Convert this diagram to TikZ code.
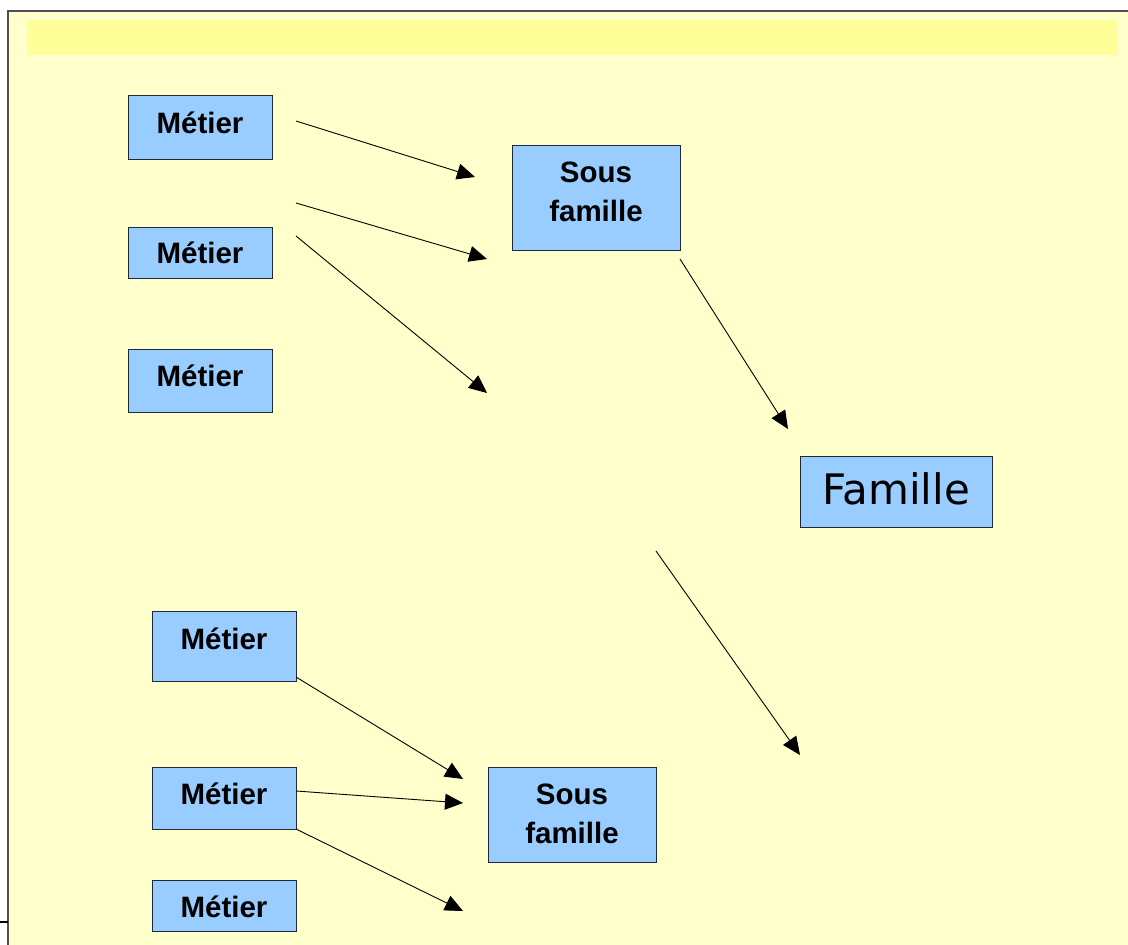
\documentclass[tikz,border=0pt]{standalone}
\usepackage{fontspec}
\setmainfont{Liberation Sans}
\newfontfamily\dejavu{DejaVu Sans}
\usetikzlibrary{arrows.meta}
\definecolor{pagebg}{HTML}{FFFFCC}
\definecolor{titlebar}{HTML}{FFFF99}
\definecolor{boxfill}{HTML}{99CCFF}
\definecolor{boxline}{HTML}{1C2A3A}
\definecolor{frameline}{HTML}{505050}
\begin{document}
\begin{tikzpicture}[x=1pt,y=-1pt,
  box/.style={draw=boxline, fill=boxfill, line width=1pt, inner sep=0pt},
  lbl/.style={inner sep=0pt, anchor=base, font=\bfseries\fontsize{29.5}{39}\selectfont},
  lbl2/.style={inner sep=0pt, align=center, font=\bfseries\fontsize{29.5}{39}\selectfont},
  arr/.style={-{Triangle[length=18pt,width=16pt]}, line width=0.9pt}]
\useasboundingbox (0,0) rectangle (1128,945);
\fill[white] (0,0) rectangle (1128,945);
\fill[pagebg] (8,11) rectangle (1128,945);
\draw[frameline, line width=1.5pt] (8,945) -- (8,11) -- (1128,11);
\draw[line width=1.5pt] (0,922) -- (8,922);
\fill[titlebar] (27,20) rectangle (1117,55);

% boxes
\node[box, minimum width=144pt, minimum height=64pt] (m1) at (200,127) {};
\node[box, minimum width=144pt, minimum height=51pt] (m2) at (200,252.5) {};
\node[box, minimum width=144pt, minimum height=63pt] (m3) at (200,380.5) {};
\node[box, minimum width=168pt, minimum height=105pt] (s1) at (596,197.5) {};
\node[box, minimum width=192pt, minimum height=71pt] (f) at (896,491.5) {};
\node[box, minimum width=144pt, minimum height=70pt] (m4) at (224,646) {};
\node[box, minimum width=144pt, minimum height=62pt] (m5) at (224,798) {};
\node[box, minimum width=144pt, minimum height=51pt] (m6) at (224,905.5) {};
\node[box, minimum width=168pt, minimum height=95pt] (s2) at (572,814.5) {};

% texts
\node[lbl] (m1t) at (200,133.5) {Métier};
\node[lbl] (m2t) at (200,263.5) {Métier};
\node[lbl] (m3t) at (200,386.5) {Métier};
\node[lbl] (m4t) at (224,649.5) {Métier};
\node[lbl] (m5t) at (224,804.5) {Métier};
\node[lbl] (m6t) at (224,917) {Métier};
\node[lbl2] (s1t) at (596,192) {Sous\\famille};
\node[lbl2] (s2t) at (572,814) {Sous\\famille};
\node[inner sep=0pt, anchor=base, font=\dejavu\fontsize{42}{50}\selectfont] (ft) at (896,504) {Famille};

% arrow end points
\coordinate (a1s) at (296,121); \coordinate (a1e) at (475,177);
\coordinate (a2s) at (296,203); \coordinate (a2e) at (487,259);
\coordinate (a3s) at (296,236); \coordinate (a3e) at (487,393);
\coordinate (a4s) at (680,259); \coordinate (a4e) at (788,429);
\coordinate (a5s) at (656,551); \coordinate (a5e) at (800,755);
\coordinate (a6s) at (296,677); \coordinate (a6e) at (463,779);
\coordinate (a7s) at (296,791); \coordinate (a7e) at (463,803);
\coordinate (a8s) at (296,829); \coordinate (a8e) at (463,911);

\draw[arr] (a1s) -- (a1e);
\draw[arr] (a2s) -- (a2e);
\draw[arr] (a3s) -- (a3e);
\draw[arr] (a4s) -- (a4e);
\draw[arr] (a5s) -- (a5e);
\draw[arr] (a6s) -- (a6e);
\draw[arr] (a7s) -- (a7e);
\draw[arr] (a8s) -- (a8e);
\end{tikzpicture}
\end{document}
